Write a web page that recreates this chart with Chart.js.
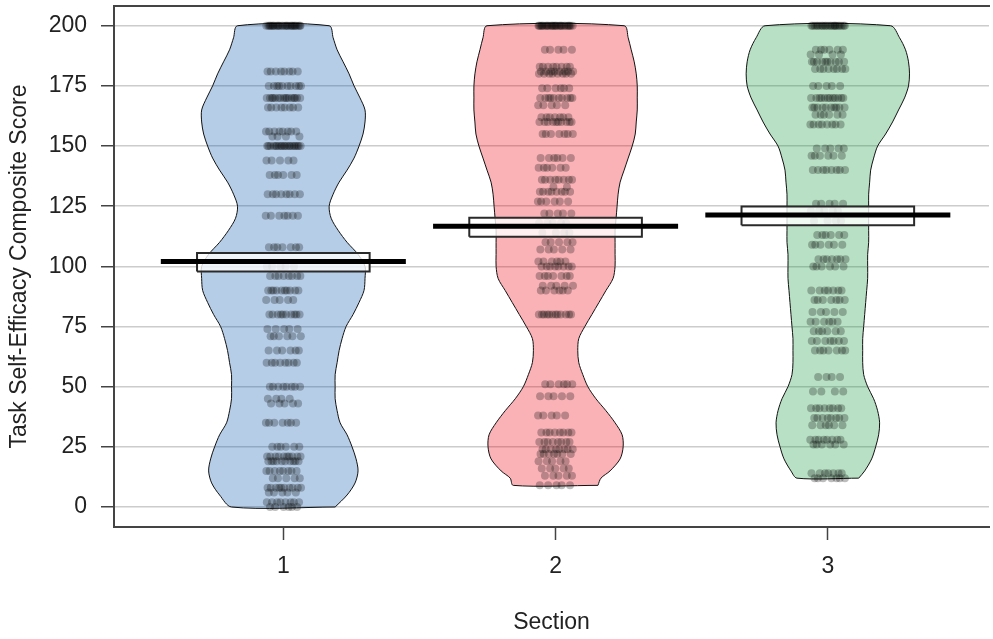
<!DOCTYPE html>
<html><head><meta charset="utf-8">
<script src="https://cdn.jsdelivr.net/npm/chart.js@4.4.0/dist/chart.umd.min.js"></script>
<style>html,body{margin:0;padding:0;background:#fff;overflow:hidden}#wrap{width:993px;height:639px}</style>
</head><body><div id="wrap"><canvas id="c" width="993" height="639"></canvas></div>
<script>
// ---- data ----
const sections = ['1', '2', '3'];
const yTicks = [0, 25, 50, 75, 100, 125, 150, 175, 200];
const means = [102.0, 116.7, 121.4];
const ciLower = [97.9, 112.3, 117.1];
const ciUpper = [105.6, 120.2, 124.9];

// relative density (bean width) at score levels
const section1Levels = [0,5,10,15,20,25,30,35,40,45,50,55,60,65,70,75,80,85,90,95,100,105,110,115,120,125,130,135,140,145,150,155,160,165,170,175,180,185,190,195,200];
const section1Density = [52,64,72,75,73,69,64,57,54,52,52,52,54,56,59,63,70,76,81,82,82,75,64,55,48,46,50,56,64,71,76,80,82,82,77,71,66,60,54,50,46];
const section2Levels = [9,12,15,20,25,30,35,40,45,50,55,60,65,70,75,80,85,90,95,100,105,110,115,120,125,130,135,140,145,150,155,160,165,170,175,180,185,190,195,200];
const section2Density = [42,45,54,64,67,66,59,50,40,32,27,23,22,23,29,36,43,50,57,59,59,59,59,60,61,62,64,68,72,76,79,80,81,81,81,80,78,75,72,68];
const section3Levels = [12,15,20,25,30,35,40,45,50,55,60,65,70,75,80,85,90,95,100,105,110,115,120,125,130,135,140,145,150,155,160,165,170,175,180,185,190,195,200];
const section3Density = [31,37,44,48,51,52,50,46,40,36,35,35,35,36,37,38,39,40,40,40,41,41,41,41,41,42,43,46,50,58,65,71,77,81,82,81,78,72,63];

// raw scores (value, number of students with it)
const section1Scores = [200,181,175,170,166,156,154,150,144,138,130,121,108,100,96,90,86,80,74,71,65,60,50,45,43,35,25,21,19,15,12,8,6,2,0];
const section1Counts = [28,8,10,16,8,8,4,20,5,6,8,7,7,5,8,10,5,10,5,6,6,8,8,4,5,7,6,10,10,8,5,10,5,8,6];
const section2Scores = [200,190,183,181,180,174,170,167,162,160,155,145,141,136,133,131,127,122,118,114,110,107,102,100,96,92,90,80,51,46,38,31,27,24,22,19,16,13,9];
const section2Counts = [28,5,8,8,8,6,10,5,7,10,7,6,6,8,2,8,6,5,5,4,5,5,6,8,7,5,6,12,6,5,5,8,8,8,7,5,5,5,5];
const section3Scores = [200,190,188,185,182,175,170,166,163,159,149,146,140,126,123,119,113,109,103,100,90,86,81,77,73,69,65,54,48,41,37,34,28,26,14,12];
const section3Counts = [22,6,4,10,8,5,12,10,6,8,5,6,8,5,5,4,6,6,7,6,7,7,5,6,6,7,7,4,4,8,8,6,8,6,7,7];

// ---- styling / layout ----
const FONT = 'Liberation Sans, Arial, Helvetica, sans-serif';
const beanFill = ['rgba(12,91,176,0.3)', 'rgba(238,0,17,0.3)', 'rgba(21,152,61,0.3)'];
const BEAN_HALF = 0.30, MEAN_HALF = 0.45, BOX_HALF = 0.317, JITTER = 0.065;
const X_MIN = 0.378, X_MAX = 3.592;

const levelsAll = [section1Levels, section2Levels, section3Levels];
const densAll = [section1Density, section2Density, section3Density];
const scoresAll = [section1Scores, section2Scores, section3Scores];
const countsAll = [section1Counts, section2Counts, section3Counts];

function beanShape(c, levels, dens) {
  const m = Math.max(...dens);
  const right = levels.map((v, i) => ({x: c + dens[i] / m * BEAN_HALF, y: v}));
  const left = levels.map((v, i) => ({x: c - dens[i] / m * BEAN_HALF, y: v})).reverse();
  return right.concat(left, [right[0]]);
}
function jitterPoints(c, scores, counts, phase) {
  const pts = []; let k = 0;
  scores.forEach((s, i) => {
    for (let j = 0; j < counts[i]; j++) {
      const u = (k * 0.6180339887 + phase) % 1;
      pts.push({x: c + (u * 2 - 1) * JITTER, y: s});
      k++;
    }
  });
  return pts;
}

const datasets = [];
sections.forEach((s, g) => {
  const c = g + 1;
  datasets.push({
    label: 'bean ' + s, data: beanShape(c, levelsAll[g], densAll[g]), showLine: true, fill: 'shape',
    backgroundColor: beanFill[g], borderColor: '#111', borderWidth: 1, pointRadius: 0, tension: 0.3, order: 4, xAxisID: 'x', yAxisID: 'y'
  });
  datasets.push({
    label: 'points ' + s, data: jitterPoints(c, scoresAll[g], countsAll[g], 0.13 + g * 0.29), showLine: false,
    pointRadius: 4, pointBackgroundColor: 'rgba(0,0,0,0.26)', pointBorderWidth: 0, order: 3, xAxisID: 'x', yAxisID: 'y'
  });
  datasets.push({
    label: 'inf ' + s,
    data: [{x: c - BOX_HALF, y: ciLower[g]}, {x: c + BOX_HALF, y: ciLower[g]}, {x: c + BOX_HALF, y: ciUpper[g]}, {x: c - BOX_HALF, y: ciUpper[g]}, {x: c - BOX_HALF, y: ciLower[g]}],
    showLine: true, fill: 'shape', backgroundColor: 'rgba(255,255,255,0.8)', borderColor: '#2a2a2a', borderWidth: 2,
    borderJoinStyle: 'miter', pointRadius: 0, tension: 0, order: 2, xAxisID: 'x', yAxisID: 'y'
  });
  datasets.push({
    label: 'mean ' + s, data: [{x: c - MEAN_HALF, y: means[g]}, {x: c + MEAN_HALF, y: means[g]}],
    showLine: true, fill: false, borderColor: '#000', borderWidth: 5, borderCapStyle: 'butt', pointRadius: 0, order: 1, xAxisID: 'x', yAxisID: 'y'
  });
});

new Chart(document.getElementById('c'), {
  type: 'scatter',
  data: {datasets},
  options: {
    responsive: false, devicePixelRatio: 1, animation: false,
    layout: {padding: 0},
    plugins: {legend: {display: false}, tooltip: {enabled: false}},
    scales: {
      x: {
        type: 'linear', position: 'bottom', min: X_MIN, max: X_MAX,
        afterBuildTicks: sc => { sc.ticks = sections.map((_, i) => ({value: i + 1})); },
        ticks: {callback: v => sections[v - 1] ?? '', font: {family: FONT, size: 23}, color: '#222', padding: 13, autoSkip: false, maxRotation: 0},
        grid: {display: true, drawOnChartArea: false, drawTicks: true, tickLength: 13, tickColor: '#444', tickWidth: 1.5},
        border: {display: true, color: '#444', width: 2},
        title: {display: true, text: 'Section', font: {family: FONT, size: 23}, color: '#222', padding: {top: 0, bottom: 3}},
        afterFit: sc => { sc.height = 112; sc.paddingLeft = 0; sc.paddingRight = 0; }
      },
      x2: {
        type: 'linear', position: 'top', min: X_MIN, max: X_MAX,
        ticks: {display: false}, grid: {display: false, drawTicks: false},
        border: {display: true, color: '#444', width: 2},
        afterFit: sc => { sc.height = 6; sc.paddingLeft = 0; sc.paddingRight = 0; }
      },
      y: {
        type: 'linear', position: 'left', min: -8.3, max: 208.2,
        afterBuildTicks: sc => { sc.ticks = yTicks.map(v => ({value: v})); },
        ticks: {font: {family: FONT, size: 23}, color: '#222', padding: 14},
        grid: {color: '#cccccc', lineWidth: 1.5, drawTicks: true, tickLength: 13, tickColor: '#444', tickWidth: 1.5},
        border: {display: true, color: '#444', width: 2},
        title: {display: true, text: 'Task Self-Efficacy Composite Score', font: {family: FONT, size: 23}, color: '#222', padding: {top: 6, bottom: 0}},
        afterFit: sc => { sc.width = 114; sc.paddingTop = 0; sc.paddingBottom = 0; }
      }
    }
  }
});
</script></body></html>
